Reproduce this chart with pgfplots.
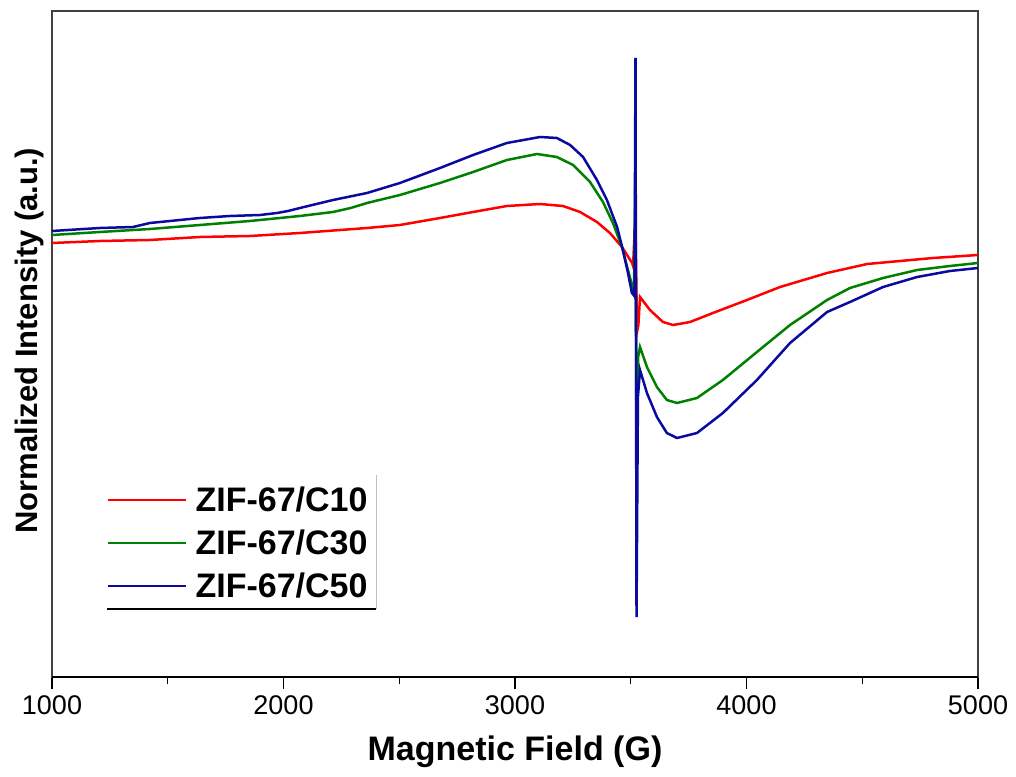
\documentclass[border=0pt]{standalone}
\usepackage{pgfplots}
\pgfplotsset{compat=1.18}
\usepackage{fontspec}
\setmainfont{Liberation Sans}
\definecolor{cred}{RGB}{255,0,0}
\definecolor{cgreen}{RGB}{0,128,0}
\definecolor{cblue}{RGB}{10,10,160}
\begin{document}
\begin{tikzpicture}
\begin{axis}[name=ax,
 scale only axis, width=926pt, height=666pt,
 xmin=1000, xmax=5000, ymin=0, ymax=666,
 xtick={1000,2000,3000,4000,5000},
 xticklabels={1000,2000,3000,4000,5000},
 minor xtick={1500,2500,3500,4500},
 ytick=\empty,
 tick align=outside, xtick pos=bottom,
 major tick length=12pt, minor tick length=7pt,
 tick style={black, line width=1.6pt},
 minor tick style={black, line width=1.3pt},
 axis line style={line width=1.3pt, draw=black!75},
 tick label style={font=\fontsize{27}{32}\selectfont},
 xticklabel style={yshift=-3pt},
 xlabel={Magnetic Field (G)},
 ylabel={Normalized Intensity (a.u.)},
 label style={font=\fontsize{31}{36}\selectfont\bfseries},
 xlabel style={at={(axis description cs:0.5,-0.1126)}, anchor=center, font=\fontsize{34}{38}\selectfont\bfseries},
 ylabel style={at={(axis description cs:-0.024,0.505)}, anchor=center},
 legend style={at={(axis description cs:0.0594,0.1185)}, anchor=south west,
   draw=none, fill=none, inner sep=0pt,
   font=\fontsize{34}{39}\selectfont\bfseries,
   nodes={inner sep=0pt, text height=24pt, text depth=0pt},
   row sep=19pt, column sep=9pt},
 legend cell align=left,
 legend image code/.code={\draw[#1,line width=1.4pt] (0pt,0pt) -- (78pt,0pt);},
]
\addplot[cred, line width=2.5pt] table {
1000 434
1207 436
1423 437
1639 440
1855 441
2071 444
2361 449
2503 452
2676 459
2819 465
2965 471
3108 473
3207 471
3281 465
3354 455
3410 444
3462 430
3506 414
3510 411
3520 462
3527 345
3533 352
3540 380
3583 367
3639 355
3683 352
3756 355
3855 364
4002 377
4145 390
4348 404
4521 413
4663 416
4806 419
5000 422
};
\addlegendentry{ZIF-67/C10}
\addplot[cgreen, line width=2.5pt] table {
1000 442
1207 445
1423 448
1639 452
1855 456
2071 461
2214 465
2290 469
2361 474
2503 482
2676 494
2819 505
2965 517
3095 523
3181 520
3251 512
3324 495
3380 475
3423 454
3462 430
3488 407
3505 392
3514 384
3520 500
3525 200
3532 320
3540 330
3570 310
3613 290
3656 277
3700 274
3786 279
3898 297
4045 325
4188 352
4348 377
4447 389
4590 399
4737 407
4879 411
5000 414
};
\addlegendentry{ZIF-67/C30}
\addplot[cblue, line width=2.5pt] table {
1000 446
1207 449
1350 450
1423 454
1639 459
1769 461
1899 462
1972 464
2020 466
2071 469
2214 477
2361 484
2503 494
2676 509
2819 522
2965 534
3108 540
3181 539
3238 532
3294 520
3354 497
3397 477
3441 450
3466 427
3488 404
3505 384
3516 381
3520.5 619
3524.9 60
3531 280
3540 307
3570 284
3613 260
3656 244
3700 239
3786 244
3898 264
4045 297
4188 334
4348 365
4447 375
4590 390
4737 400
4879 406
5000 409
};
\addlegendentry{ZIF-67/C50}
\draw[black, line width=1.6pt] (axis description cs:0.0594,0.102) -- (axis description cs:0.35,0.102);
\draw[black!25, line width=1pt] (axis description cs:0.35,0.102) -- (axis description cs:0.35,0.303);
\end{axis}
\draw[black, line width=2.4pt] (ax.south west) -- (ax.south east);
\path ([shift={(-52pt,-99pt)}]ax.south west) rectangle ([shift={(964pt,677pt)}]ax.south west);
\end{tikzpicture}
\end{document}
